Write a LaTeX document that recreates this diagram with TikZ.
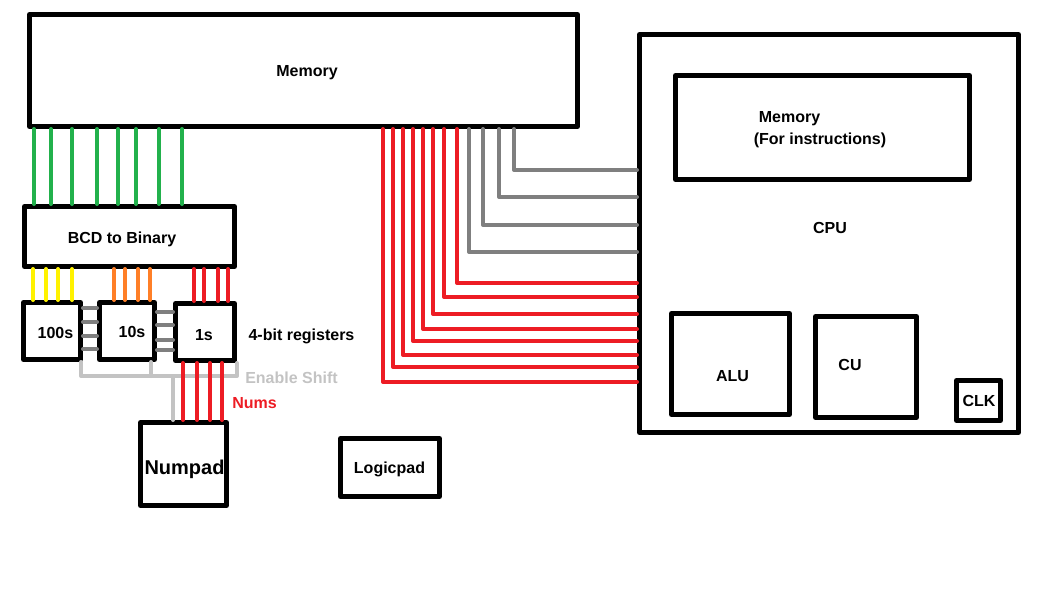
\documentclass[tikz,border=0pt]{standalone}
\usepackage{fontspec}
\setmainfont{Liberation Sans}
\definecolor{wgreen}{HTML}{22B14C}
\definecolor{wyellow}{HTML}{FFF200}
\definecolor{worange}{HTML}{FF7F27}
\definecolor{wred}{HTML}{ED1C24}
\definecolor{wgray}{HTML}{7F7F7F}
\definecolor{wlgray}{HTML}{C3C3C3}
\begin{document}
\begin{tikzpicture}[x=1pt, y=-1pt, line join=round, line cap=round,
	box/.style 2 args={draw, line width=5pt, inner sep=0pt, minimum width=#1, minimum height=#2},
	lbl/.style={font=\fontsize{16}{19}\selectfont\bfseries, inner sep=0pt, anchor=base},
	wire/.style={line width=4pt}]
	\useasboundingbox (0,0) rectangle (1045,608);
	% blocks
	\node[box={548}{112}] (mem) at (303.5,70.5) {};
	\node[box={379}{398}] (cpu) at (829,233.5) {};
	\node[box={294}{104}] (imem) at (822.5,127.5) {};
	\node[box={210}{60}] (bcd) at (129.5,236.5) {};
	\node[box={57}{57}] (r100) at (52,331) {};
	\node[box={55}{57}] (r10) at (127,331) {};
	\node[box={59}{57}] (r1) at (205,332) {};
	\node[box={86}{83}] (numpad) at (183.5,464) {};
	\node[box={99}{58}] (logicpad) at (390,467.5) {};
	\node[box={118}{101}] (alu) at (730.5,364) {};
	\node[box={101}{101}] (cu) at (866,367) {};
	\node[box={44}{40}] (clk) at (978.5,400.5) {};
	% labels
	\node[lbl] (memtxt) at (307,76) {Memory};
	\node[lbl] (cputxt) at (830,233) {CPU};
	\node[lbl] (imemtxt) at (789.5,122) {Memory};
	\node[lbl] (imemsub) at (820,144) {(For instructions)};
	\node[lbl] (bcdtxt) at (122,243) {BCD to Binary};
	\node[lbl] (r100txt) at (55.5,338) {100s};
	\node[lbl] (r10txt) at (132,337) {10s};
	\node[lbl] (r1txt) at (204,340) {1s};
	\node[lbl] (regtxt) at (301.5,340) {4-bit registers};
	\node[lbl, text=wlgray] (shifttxt) at (291.5,383) {Enable Shift};
	\node[lbl, text=wred] (numstxt) at (254.5,408) {Nums};
	\node[lbl, font=\fontsize{20}{24}\selectfont\bfseries] (numpadtxt) at (184.5,474) {Numpad};
	\node[lbl] (logictxt) at (389.5,473) {Logicpad};
	\node[lbl] (alutxt) at (732.5,381) {ALU};
	\node[lbl] (cutxt) at (850,370) {CU};
	\node[lbl] (clktxt) at (979,406) {CLK};
	% memory to BCD
	\foreach \x in {34,51,72,97,118,136,159,182}\draw[wire,wgreen] (\x,0 |- mem.south)--(\x,0 |- bcd.north);
	% BCD to registers
	\foreach \x in {33,46,58,72}\draw[wire,wyellow] (\x,0 |- bcd.south)--(\x,0 |- r100.north);
	\foreach \x in {114,125,138,150}\draw[wire,worange] (\x,0 |- bcd.south)--(\x,0 |- r10.north);
	\foreach \x in {194,204,218,228}\draw[wire,wred] (\x,0 |- bcd.south)--(\x,0 |- r1.north);
	% shift links
	\foreach \y in {308,322,336,349}\draw[wire,wgray] (r100.east |- 0,\y)--(r10.west |- 0,\y);
	\foreach \y in {312,325,340,350}\draw[wire,wgray] (r10.east |- 0,\y)--(r1.west |- 0,\y);
	% enable shift bus
	\coordinate (en) at (237,376);
	\draw[wire,wlgray] (r100.south -| 81,0) |- (en) -- (r1.south -| en);
	\draw[wire,wlgray] (r10.south -| 151,0) -- (151,376);
	\draw[wire,wlgray] (173,376) -- (numpad.north -| 173,0);
	% nums
	\foreach \x in {183,197,210,222}\draw[wire,wred] (\x,0 |- r1.south)--(\x,0 |- numpad.north);
	% memory to CPU
	\foreach \x/\y in {383/382,393/367,403/355,413/341,423/329,433/314,444/297,457/283}
		\draw[wire,wred] (\x,0 |- mem.south) |- (cpu.west |- 0,\y);
	\foreach \x/\y in {469/252,483/225,499/197,514/170}
		\draw[wire,wgray] (\x,0 |- mem.south) |- (cpu.west |- 0,\y);
\end{tikzpicture}
\end{document}
